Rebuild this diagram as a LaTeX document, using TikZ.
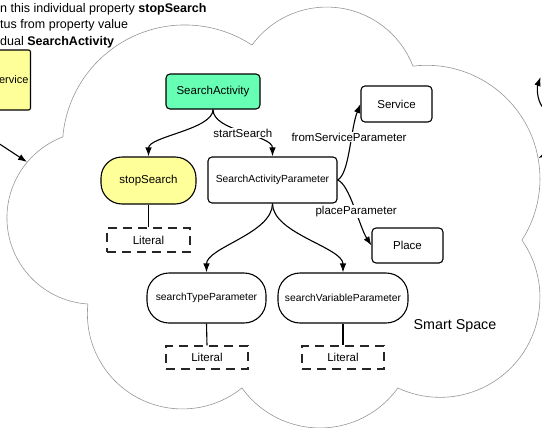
\documentclass[tikz,border=0pt]{standalone}
\usepackage{fontspec}
\setmainfont{Liberation Sans}
\usetikzlibrary{arrows.meta,positioning}
\definecolor{sagreen}{RGB}{102,255,179}
\definecolor{propyellow}{RGB}{255,255,153}
\definecolor{cloudgray}{RGB}{150,150,150}
\newcommand{\ssfont}{\fontsize{11.5bp}{13bp}\selectfont}
\newcommand{\ssfontsmall}{\fontsize{10.3bp}{12bp}\selectfont}
\tikzstyle{arrow} = [line width=1.1bp,-{Latex[length=9bp,width=6.5bp]}]
\tikzstyle{link} = [line width=1.1bp]
\tikzstyle{classbox} = [rectangle, rounded corners=4bp, draw=black, line width=1.1bp, fill=white, inner sep=0pt, text centered, font=\ssfont]
\tikzstyle{propbox} = [classbox, rounded corners=21bp]
\tikzstyle{literalbox} = [rectangle, draw=black!85, line width=1.1bp, dash pattern=on 9bp off 6bp, inner sep=0pt, minimum width=83bp, minimum height=24bp, font=\ssfont]
\tikzstyle{edgelabel} = [fill=white, inner sep=1bp, font=\ssfont]
\tikzstyle{cloud} = [draw=cloudgray, line width=0.6bp]
\tikzstyle{titleline} = [anchor=base west, inner sep=0pt, font=\fontsize{12.5bp}{16bp}\selectfont]

\begin{document}
\begin{tikzpicture}[x=1bp, y=1bp]
    \useasboundingbox (0,0) rectangle (542,427);
    \clip (0,0) rectangle (542,427);

    % Smart space cloud
    \draw[cloud] (63,292)
        arc[start angle=174.2, end angle=56.7, radius=122.4bp]
        arc[start angle=143.9, end angle=21.2, radius=92.5bp]
        arc[start angle=96.9, end angle=-32.8, radius=113.4bp]
        arc[start angle=35, end angle=-115, radius=99.9bp]
        arc[start angle=-35.7, end angle=-144.3, radius=96bp]
        arc[start angle=-51.2, end angle=-186, radius=95bp]
        arc[start angle=266.4, end angle=110.6, radius=86.4bp] -- cycle;
    \node[font=\fontsize{14.3bp}{16bp}\selectfont] (space) at (455,101) {Smart Space};

    % Note text (cut at the left edge)
    \node[titleline] (note1) at (0,414) {n this individual property \textbf{stopSearch}};
    \node[titleline] (note2) at (0,398) {tus from property value};
    \node[titleline] (note3) at (0,382) {dual \textbf{SearchActivity}};

    % Service outside the cloud
    \node[classbox, fill=propyellow, rounded corners=2bp, anchor=east, inner xsep=2bp, minimum height=60bp, font=\fontsize{11bp}{13bp}\selectfont] (srvout) at (31,347) {ervice};
    \coordinate (srvfrom) at (-8,288);
    \coordinate (cloudW) at (27,265);
    \draw[arrow] (srvfrom) -- (cloudW);

    % Links leaving the right edge
    \coordinate (rightin) at (542.5,320);
    \coordinate (rightout) at (540.5,350);
    \draw[arrow] (rightin) .. controls (536.5,328) and (537,340) .. (rightout);
    \coordinate (rightfrom) at (548,274);
    \coordinate (cloudE) at (538.5,269);
    \draw[arrow] (rightfrom) -- (cloudE);

    % Individuals
    \node[classbox, fill=sagreen, minimum width=94bp, minimum height=35bp] (act) at (213,335.5) {SearchActivity};
    \node[classbox, minimum width=129bp, minimum height=46bp, font=\ssfontsmall] (sap) at (272.5,247) {SearchActivityParameter};
    \node[classbox, minimum width=71bp, minimum height=36bp] (serv) at (396.5,323) {Service};
    \node[classbox, minimum width=71bp, minimum height=35bp] (place) at (407.5,181.5) {Place};

    % Data properties
    \node[propbox, fill=propyellow, minimum width=95bp, minimum height=47bp] (stop) at (148.5,246.5) {stopSearch};
    \node[propbox, rounded corners=22bp, minimum width=119bp, minimum height=50bp, font=\ssfontsmall] (stype) at (206.5,129) {searchTypeParameter};
    \node[propbox, rounded corners=22bp, minimum width=130bp, minimum height=50bp, font=\ssfontsmall] (svar) at (343,129) {searchVariableParameter};

    % Literals
    \node[literalbox] (lit1) at (148.5,187) {Literal};
    \node[literalbox, minimum width=82bp, minimum height=23bp] (lit2) at (207,69.5) {Literal};
    \node[literalbox, minimum width=82bp, minimum height=23bp] (lit3) at (343,69.5) {Literal};

    % Object properties
    \draw[arrow] (act.south) .. controls +(0,-20) and +(0,20) .. (stop.north);
    \draw[arrow] (act.south) .. controls +(0,-22) and +(0,22) .. node[edgelabel, pos=0.5] {startSearch} (sap.north);
    \draw[arrow] (sap.east) .. controls +(12,6) and +(-10,-25) .. node[edgelabel, pos=0.63, xshift=-3bp] {fromServiceParameter} (serv.west);
    \draw[arrow] (sap.east) .. controls +(12,-4) and +(-12,18.5) .. node[edgelabel, pos=0.55] {placeParameter} (place.west);
    \draw[arrow] (sap.south) .. controls +(0,-30) and +(0,25) .. (stype.north);
    \draw[arrow] (sap.south) .. controls +(0,-30) and +(0,25) .. (svar.north);

    % Values
    \draw[link] (stop.south) -- (lit1.north);
    \draw[link] (stype.south) -- (lit2.north);
    \draw[link] (svar.south) -- (lit3.north);
\end{tikzpicture}
\end{document}
